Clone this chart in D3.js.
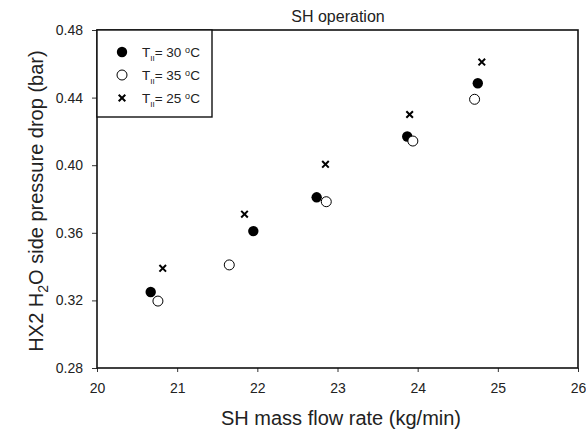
<!DOCTYPE html>
<html>
<head>
<meta charset="utf-8">
<script src="https://cdn.jsdelivr.net/npm/d3@7"></script>
<style>
  body { margin: 0; background: #fff; }
  svg { font-family: "Liberation Sans", Arial, sans-serif; }
</style>
</head>
<body>
<div class="chart"></div>
<script>
(() => {
  // series
  const flow30 = [20.67, 21.95, 22.74, 23.87, 24.75];
  const drop30 = [0.325, 0.361, 0.381, 0.417, 0.4485];
  const flow35 = [20.76, 21.65, 22.86, 23.94, 24.71];
  const drop35 = [0.3196, 0.341, 0.3784, 0.4143, 0.439];
  const flow25 = [20.82, 21.84, 22.85, 23.9, 24.8];
  const drop25 = [0.339, 0.371, 0.4005, 0.43, 0.461];

  const xTicks = [20, 21, 22, 23, 24, 25, 26];
  const yTicks = [0.28, 0.32, 0.36, 0.40, 0.44, 0.48];
  const legendTemps = ["30", "35", "25"];

  const width = 586, height = 438;
  const margin = { top: 30, right: 8, bottom: 70, left: 97 };

  const svg = d3.select(".chart").append("svg")
    .attr("width", width).attr("height", height);

  const x = d3.scaleLinear().domain([20, 26]).range([margin.left, width - margin.right]);
  const y = d3.scaleLinear().domain([0.28, 0.48]).range([height - margin.bottom, margin.top]);

  // axes
  const xAxis = svg.append("g")
    .attr("transform", `translate(0,${height - margin.bottom})`)
    .call(d3.axisBottom(x).tickValues(xTicks).tickFormat(d3.format("d")).tickSizeOuter(0).tickSize(4).tickPadding(11));
  const yAxis = svg.append("g")
    .attr("transform", `translate(${margin.left},0)`)
    .call(d3.axisLeft(y).tickValues(yTicks).tickFormat(d3.format(".2f")).tickSizeOuter(0).tickSize(5).tickPadding(9));
  [xAxis, yAxis].forEach((g) => {
    g.select(".domain").remove();
    g.selectAll("text").style("font-size", "14px").attr("fill", "#222");
    g.selectAll("line").attr("stroke", "#333");
  });

  // frame
  svg.append("rect")
    .attr("x", x(20)).attr("y", y(0.48))
    .attr("width", x(26) - x(20)).attr("height", y(0.28) - y(0.48))
    .attr("fill", "none").attr("stroke", "#111").attr("stroke-width", 1.6);

  // title
  svg.append("text")
    .attr("x", 338).attr("y", 22)
    .attr("text-anchor", "middle")
    .style("font-size", "16px")
    .attr("fill", "#222")
    .text("SH operation");

  // axis titles
  svg.append("text")
    .attr("x", 341).attr("y", 425)
    .attr("text-anchor", "middle")
    .style("font-size", "20px")
    .attr("fill", "#222")
    .text("SH mass flow rate (kg/min)");

  const yt = svg.append("text")
    .attr("transform", `translate(43,201) rotate(-90)`)
    .attr("text-anchor", "middle")
    .style("font-size", "20px")
    .attr("fill", "#222");
  yt.append("tspan").text("HX2 H");
  yt.append("tspan").attr("dy", 5).style("font-size", "14px").text("2");
  yt.append("tspan").attr("dy", -5).text("O side pressure drop (bar)");

  // markers
  const dot = (g, cx, cy, kind) => {
    if (kind === "filled") {
      g.append("circle").attr("cx", cx).attr("cy", cy).attr("r", 5.2).attr("fill", "#000");
    } else if (kind === "open") {
      g.append("circle").attr("cx", cx).attr("cy", cy).attr("r", 5)
        .attr("fill", "#fff").attr("stroke", "#000").attr("stroke-width", 1);
    } else {
      const s = 3.3;
      g.append("path")
        .attr("d", `M${cx - s},${cy - s}L${cx + s},${cy + s}M${cx - s},${cy + s}L${cx + s},${cy - s}`)
        .attr("stroke", "#000").attr("stroke-width", 2);
    }
  };

  const pts = svg.append("g").attr("class", "points");
  flow30.forEach((f, i) => dot(pts, x(f), y(drop30[i]), "filled"));
  flow35.forEach((f, i) => dot(pts, x(f), y(drop35[i]), "open"));
  flow25.forEach((f, i) => dot(pts, x(f), y(drop25[i]), "cross"));

  // legend
  const legend = svg.append("g").attr("class", "legend");
  legend.append("rect")
    .attr("x", x(20)).attr("y", y(0.48))
    .attr("width", 115).attr("height", 87)
    .attr("fill", "#fff").attr("stroke", "#111").attr("stroke-width", 1.4);
  const kinds = ["filled", "open", "cross"];
  legendTemps.forEach((t, i) => {
    const ly = 52 + i * 23;
    dot(legend, 122, ly, kinds[i]);
    const txt = legend.append("text")
      .attr("x", 142).attr("y", ly + 5)
      .style("font-size", "13.5px").attr("fill", "#222");
    txt.append("tspan").text("T");
    txt.append("tspan").attr("dy", 4).style("font-size", "8px").text("II");
    txt.append("tspan").attr("dy", -4).text(`= ${t} `);
    txt.append("tspan").attr("dy", -4).style("font-size", "9px").text("o");
    txt.append("tspan").attr("dy", 4).text("C");
  });
})();
</script>
</body>
</html>
